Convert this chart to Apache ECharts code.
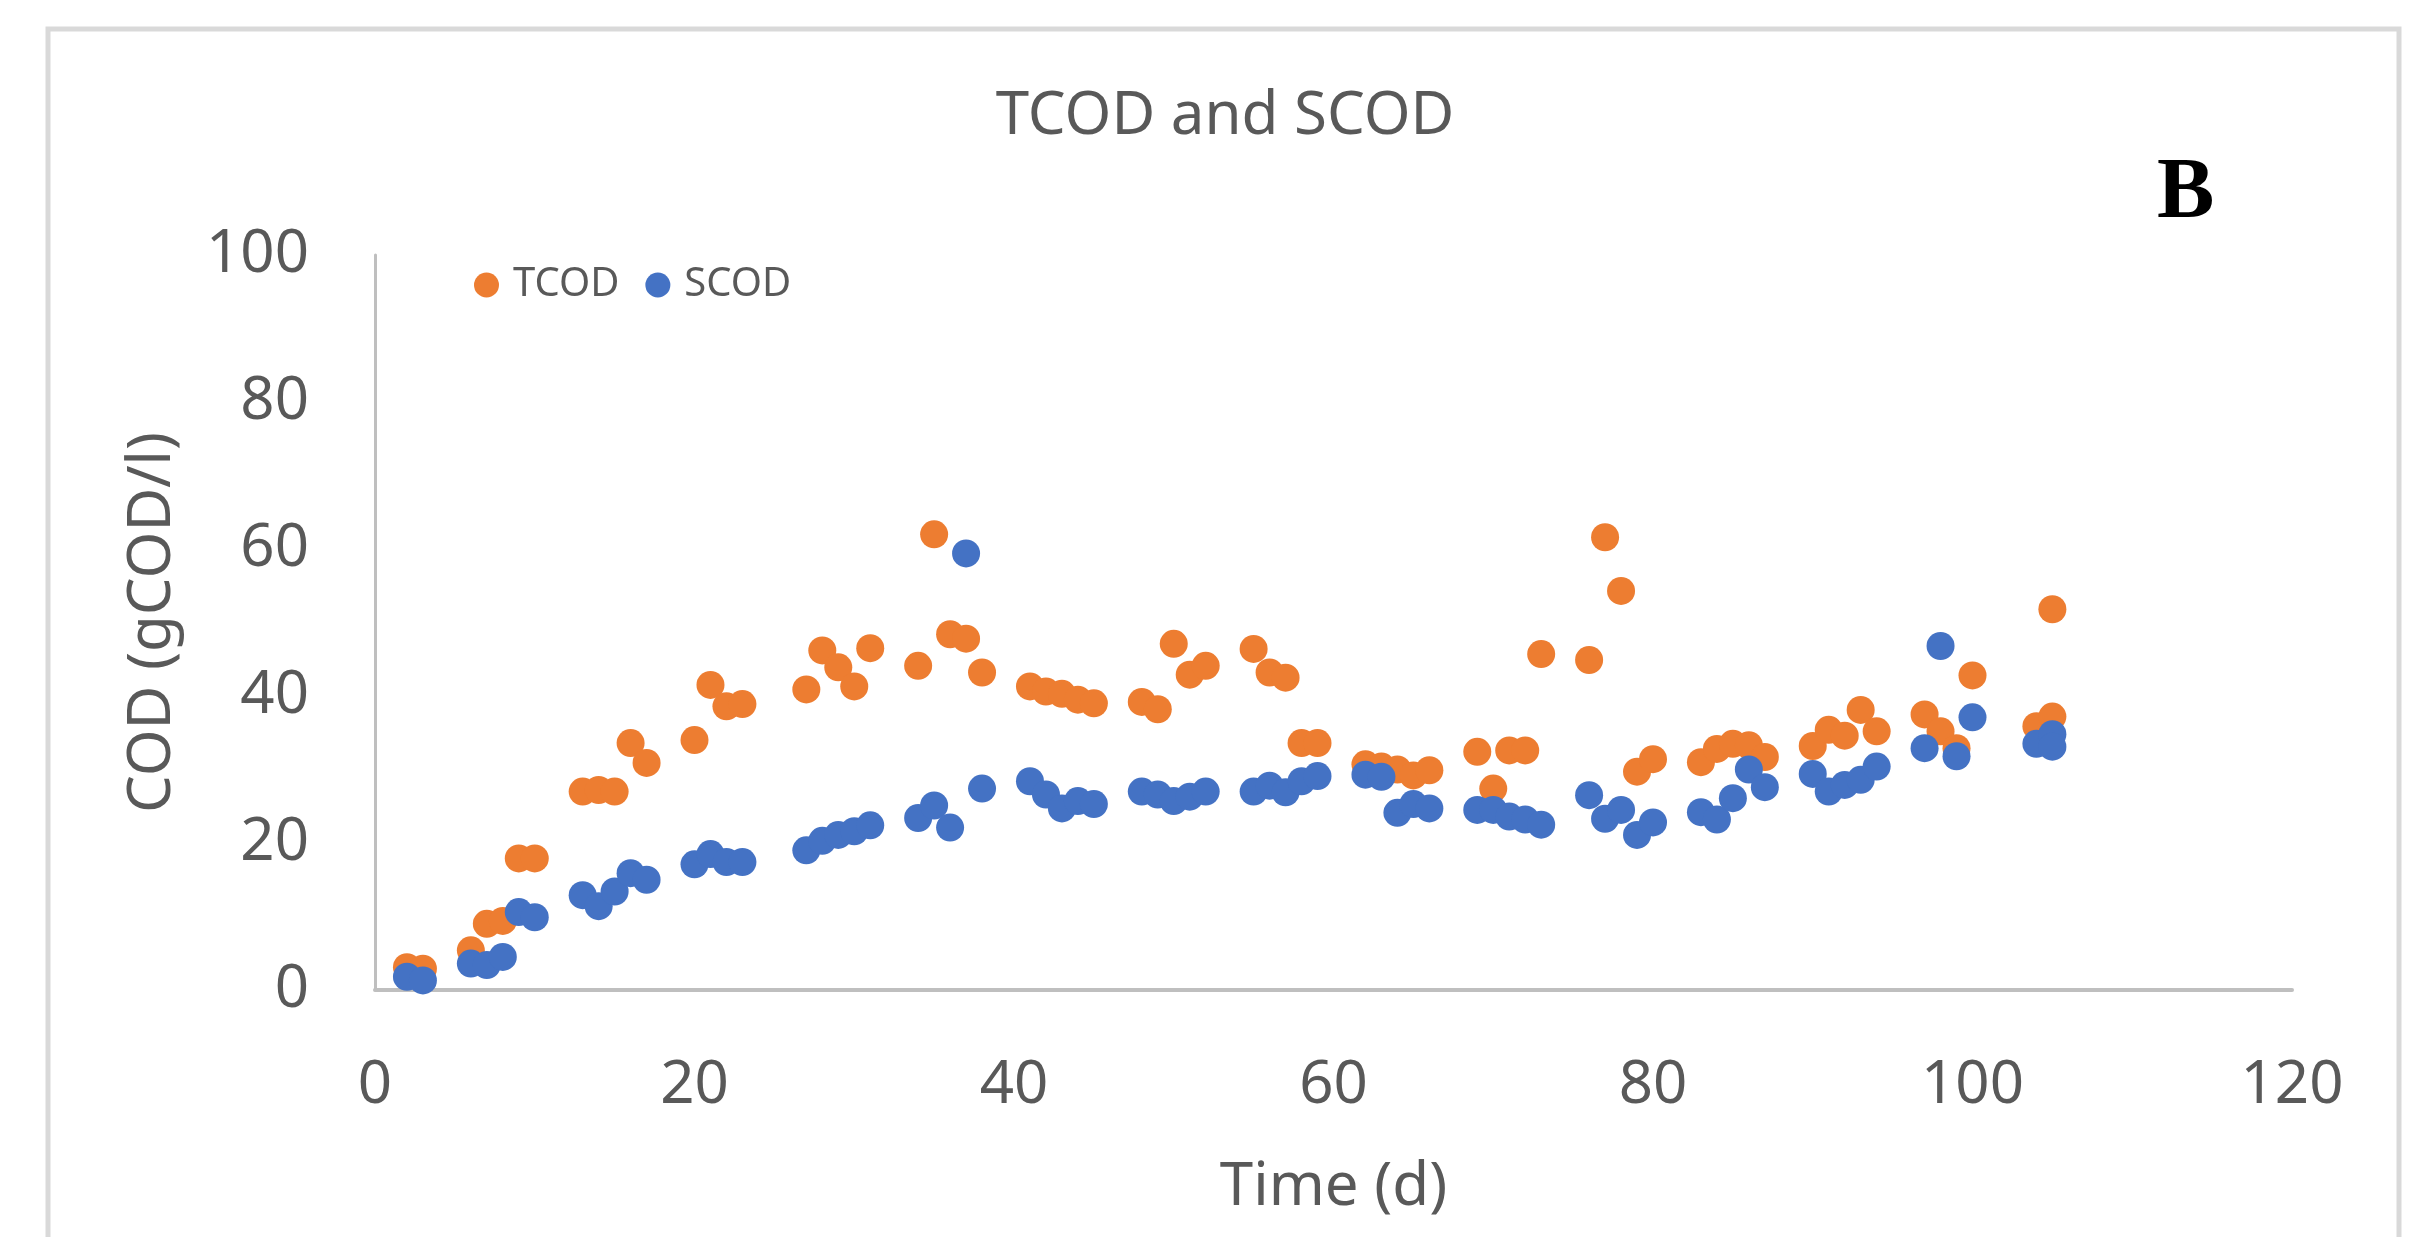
<!DOCTYPE html>
<html>
    <head>
        <title>TCOD and SCOD</title>
        <meta charset="UTF-8">
        <script src="https://cdn.jsdelivr.net/npm/echarts@6/dist/echarts.min.js"></script>
        <style>
            html, body { margin: 0; padding: 0; background: #fff; }
        </style>
    </head>
    <body>
        <div id="chart" style="width: 2422px; height: 1237px;"></div>
        <script>
            // sampling days (d) and COD values (gCOD/l)
            const tcodDays = [2, 3, 6, 7, 8, 9, 10, 13, 14, 15, 16, 17, 20, 21, 22, 23,
                27, 28, 29, 30, 31, 34, 35, 36, 37, 38, 41, 42, 43, 44, 45,
                48, 49, 50, 51, 52, 55, 56, 57, 58, 59, 62, 63, 64, 65, 66,
                69, 70, 71, 72, 73, 76, 77, 78, 79, 80, 83, 84, 85, 86, 87,
                90, 91, 92, 93, 94, 97, 98, 99, 100, 104, 105, 105];
            const tcodValues = [3.1, 2.9, 5.4, 9.0, 9.4, 17.9, 17.9, 27.0, 27.2, 27.0, 33.6, 30.9, 34.0, 41.5, 38.6, 38.9,
                40.9, 46.2, 43.9, 41.3, 46.5, 44.1, 62.0, 48.4, 47.8, 43.2, 41.3, 40.6, 40.3, 39.5, 39.0,
                39.2, 38.2, 47.1, 42.9, 44.1, 46.4, 43.2, 42.5, 33.6, 33.6, 30.7, 30.4, 30.0, 29.2, 29.9,
                32.4, 27.4, 32.6, 32.6, 45.7, 44.9, 61.6, 54.3, 29.7, 31.4, 31.0, 32.8, 33.5, 33.3, 31.7,
                33.2, 35.4, 34.6, 38.1, 35.2, 37.5, 35.2, 32.9, 42.8, 35.9, 37.2, 51.8];

            const scodDays = [2, 3, 6, 7, 8, 9, 10, 13, 14, 15, 16, 17, 20, 21, 22, 23,
                27, 28, 29, 30, 31, 34, 35, 36, 37, 38, 41, 42, 43, 44, 45,
                48, 49, 50, 51, 52, 55, 56, 57, 58, 59, 62, 63, 64, 65, 66,
                69, 70, 71, 72, 73, 76, 77, 78, 79, 80, 83, 84, 85, 86, 87,
                90, 91, 92, 93, 94, 97, 98, 99, 100, 104, 105, 105];
            const scodValues = [1.8, 1.3, 3.6, 3.4, 4.5, 10.6, 9.9, 12.9, 11.4, 13.4, 15.9, 15.0, 17.1, 18.5, 17.4, 17.4,
                19.0, 20.3, 21.1, 21.6, 22.4, 23.4, 25.1, 22.1, 59.4, 27.4, 28.4, 26.6, 24.7, 25.7, 25.3,
                27.0, 26.6, 25.7, 26.3, 27.0, 27.0, 27.8, 26.9, 28.4, 29.1, 29.3, 29.0, 24.1, 25.3, 24.7,
                24.5, 24.5, 23.6, 23.2, 22.5, 26.5, 23.3, 24.5, 21.1, 22.8, 24.2, 23.2, 26.1, 30.0, 27.6,
                29.4, 27.0, 27.9, 28.6, 30.4, 32.9, 46.8, 31.8, 37.1, 33.5, 34.8, 33.1];

            const zip = (xs, ys) => xs.map((x, i) => [x, ys[i]]);

            const font = '"Noto Sans", "Open Sans", sans-serif';
            const grey = '#595959';
            const axisGrey = '#bfbfbf';

            const chart = echarts.init(document.getElementById('chart'));
            chart.setOption({
                animation: false,
                backgroundColor: '#fff',
                title: {
                    text: 'TCOD and SCOD',
                    left: 1220,
                    textAlign: 'center',
                    top: 82,
                    textStyle: {
                        fontFamily: font,
                        fontSize: 60,
                        fontWeight: 'normal',
                        color: grey
                    }
                },
                legend: {
                    left: 474,
                    top: 265,
                    padding: 0,
                    itemGap: 26,
                    itemWidth: 25,
                    itemHeight: 25,
                    icon: 'circle',
                    textStyle: {
                        fontFamily: font,
                        fontSize: 40,
                        color: grey,
                        padding: [0, 0, 0, 9]
                    },
                    data: ['TCOD', 'SCOD']
                },
                grid: {
                    left: 375,
                    right: 130,
                    top: 255,
                    bottom: 247,
                    containLabel: false
                },
                xAxis: {
                    type: 'value',
                    min: 0,
                    max: 120,
                    interval: 20,
                    name: 'Time (d)',
                    nameLocation: 'middle',
                    nameGap: 168,
                    nameTextStyle: { fontFamily: font, fontSize: 60, color: grey },
                    axisLine: { show: true, lineStyle: { color: axisGrey, width: 4 } },
                    axisTick: { show: false },
                    splitLine: { show: false },
                    axisLabel: { fontFamily: font, fontSize: 60, color: grey, margin: 66 }
                },
                yAxis: {
                    type: 'value',
                    min: 0,
                    max: 100,
                    interval: 20,
                    name: 'COD (gCOD/l)',
                    nameLocation: 'middle',
                    nameGap: 192,
                    nameTextStyle: { fontFamily: font, fontSize: 60, color: grey },
                    axisLine: { show: true, lineStyle: { color: axisGrey, width: 3 } },
                    axisTick: { show: false },
                    splitLine: { show: false },
                    axisLabel: { fontFamily: font, fontSize: 60, color: grey, margin: 66 }
                },
                series: [
                    {
                        name: 'TCOD',
                        type: 'scatter',
                        symbolSize: 28,
                        itemStyle: { color: '#ED7D31', opacity: 1 },
                        data: zip(tcodDays, tcodValues)
                    },
                    {
                        name: 'SCOD',
                        type: 'scatter',
                        symbolSize: 28,
                        itemStyle: { color: '#4472C4', opacity: 1 },
                        data: zip(scodDays, scodValues)
                    }
                ],
                graphic: [
                    {
                        type: 'polyline',
                        silent: true,
                        shape: { points: [[48, 1237], [48, 29], [2399, 29], [2399, 1237]] },
                        style: { stroke: '#d9d9d9', lineWidth: 5, fill: null }
                    },
                    {
                        type: 'text',
                        left: 2157,
                        top: 152,
                        style: {
                            text: 'B',
                            font: 'bold 86px "Liberation Serif", serif',
                            fill: '#000'
                        }
                    }
                ]
            });
        </script>
    </body>
</html>
